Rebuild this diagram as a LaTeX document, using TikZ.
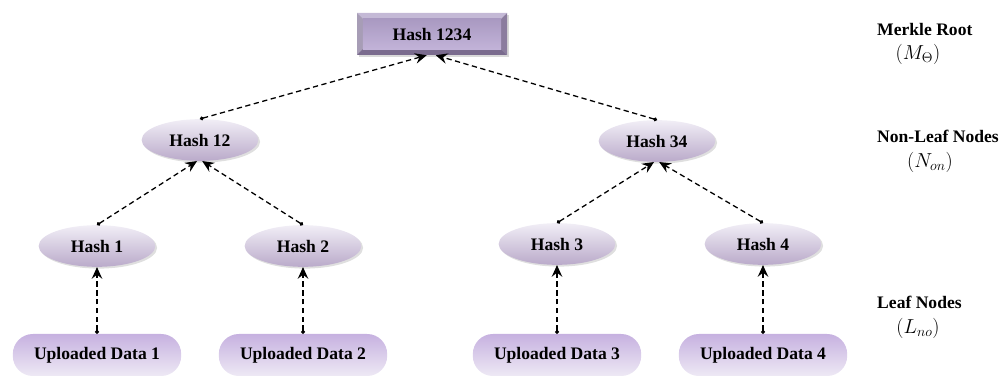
\documentclass[tikz,border=0pt]{standalone}
\usepackage{amsmath,amssymb}
\usepackage{fontspec}
\setmainfont{Liberation Serif}
\usetikzlibrary{arrows.meta,shapes.geometric,shadows}

\definecolor{hashtop}{HTML}{F1EEF6}
\definecolor{hashbot}{HTML}{BAAACA}
\definecolor{datatop}{HTML}{C6B1E0}
\definecolor{databot}{HTML}{EEE9F5}
\definecolor{rootface}{HTML}{A999C1}
\definecolor{rootlow}{HTML}{C2B3D8}
\definecolor{bevlight}{HTML}{C4B9D6}
\definecolor{bevdark}{HTML}{8B7C9E}
\definecolor{bevdeep}{HTML}{7A6B8E}

\begin{document}
\begin{tikzpicture}[x=0.03cm,y=-0.03cm,>=Stealth,
  font=\fontsize{15}{18}\selectfont\bfseries,
  hashnode/.style={ellipse,inner sep=0pt,minimum width=3.5cm,minimum height=1.25cm,
    top color=hashtop,bottom color=hashbot,
    drop shadow={shadow xshift=1.5pt,shadow yshift=-1.5pt,opacity=0.25}},
  datanode/.style={rectangle,rounded corners=0.6cm,minimum width=5.05cm,minimum height=1.26cm,
    top color=datatop,bottom color=databot},
  rootnode/.style={rectangle,minimum width=4.5cm,minimum height=1.26cm,
    path picture={
      \coordinate (nw) at (path picture bounding box.north west);
      \coordinate (ne) at (path picture bounding box.north east);
      \coordinate (sw) at (path picture bounding box.south west);
      \coordinate (se) at (path picture bounding box.south east);
      \fill[bevlight] (nw) -- (ne) -- ([shift={(-5pt,-5pt)}]ne) -- ([shift={(5pt,-5pt)}]nw) -- cycle;
      \fill[bevlight!85!black] (nw) -- ([shift={(5pt,-5pt)}]nw) -- ([shift={(5pt,5pt)}]sw) -- (sw) -- cycle;
      \fill[bevdark] (ne) -- (se) -- ([shift={(-5pt,5pt)}]se) -- ([shift={(-5pt,-5pt)}]ne) -- cycle;
      \fill[bevdeep] (sw) -- (se) -- ([shift={(-5pt,5pt)}]se) -- ([shift={(5pt,5pt)}]sw) -- cycle;
      \shade[top color=rootface,bottom color=rootlow]
        ([shift={(5pt,-5pt)}]nw) rectangle ([shift={(-5pt,5pt)}]se);},
    drop shadow={shadow xshift=1.5pt,shadow yshift=-1.5pt,opacity=0.3}},
  link/.style={dashed,dash pattern=on 4.5pt off 3pt,line width=1.1pt,
    {Circle[length=3.2pt]}-{Stealth[length=10pt,width=9pt,inset=3.5pt]}},
  lbl/.style={anchor=west,inner sep=0pt},
  sym/.style={font=\fontsize{18}{20}\selectfont}]
\useasboundingbox (0,0) rectangle (1002,376);

% tree
\node[rootnode] (root) at (432,34) {Hash 1234};
\node[hashnode] (h12) at (200,140) {Hash 12};
\node[hashnode] (h34) at (657,141) {Hash 34};
\node[hashnode] (h1) at (97,246) {Hash 1};
\node[hashnode] (h2) at (303,246) {Hash 2};
\node[hashnode] (h3) at (557,244) {Hash 3};
\node[hashnode] (h4) at (763,244) {Hash 4};
\node[datanode] (d1) at (97,355) {Uploaded Data 1};
\node[datanode] (d2) at (303,355) {Uploaded Data 2};
\node[datanode] (d3) at (557,355) {Uploaded Data 3};
\node[datanode] (d4) at (763,355) {Uploaded Data 4};

\draw[link] (h12.north) -- (root.-104);
\draw[link] (h34.north) -- (root.-80);
\draw[link] (h1.north) -- (h12.-98);
\draw[link] (h2.north) -- (h12.-84);
\draw[link] (h3.north) -- (h34.-98);
\draw[link] (h4.north) -- (h34.-84);
\draw[link] (d1.north) -- (h1.south);
\draw[link] (d2.north) -- (h2.south);
\draw[link] (d3.north) -- (h3.south);
\draw[link] (d4.north) -- (h4.south);

% level labels
\node[lbl] (lroot) at (877,29) {Merkle Root};
\node[sym] (sroot) at (918,54) {$(M_{\Theta})$};
\node[lbl] (lnon) at (877,136) {Non-Leaf Nodes};
\node[sym] (snon) at (930,162) {$(N_{on})$};
\node[lbl] (lleaf) at (877,302) {Leaf Nodes};
\node[sym] (sleaf) at (918,328) {$(L_{no})$};
\end{tikzpicture}
\end{document}
